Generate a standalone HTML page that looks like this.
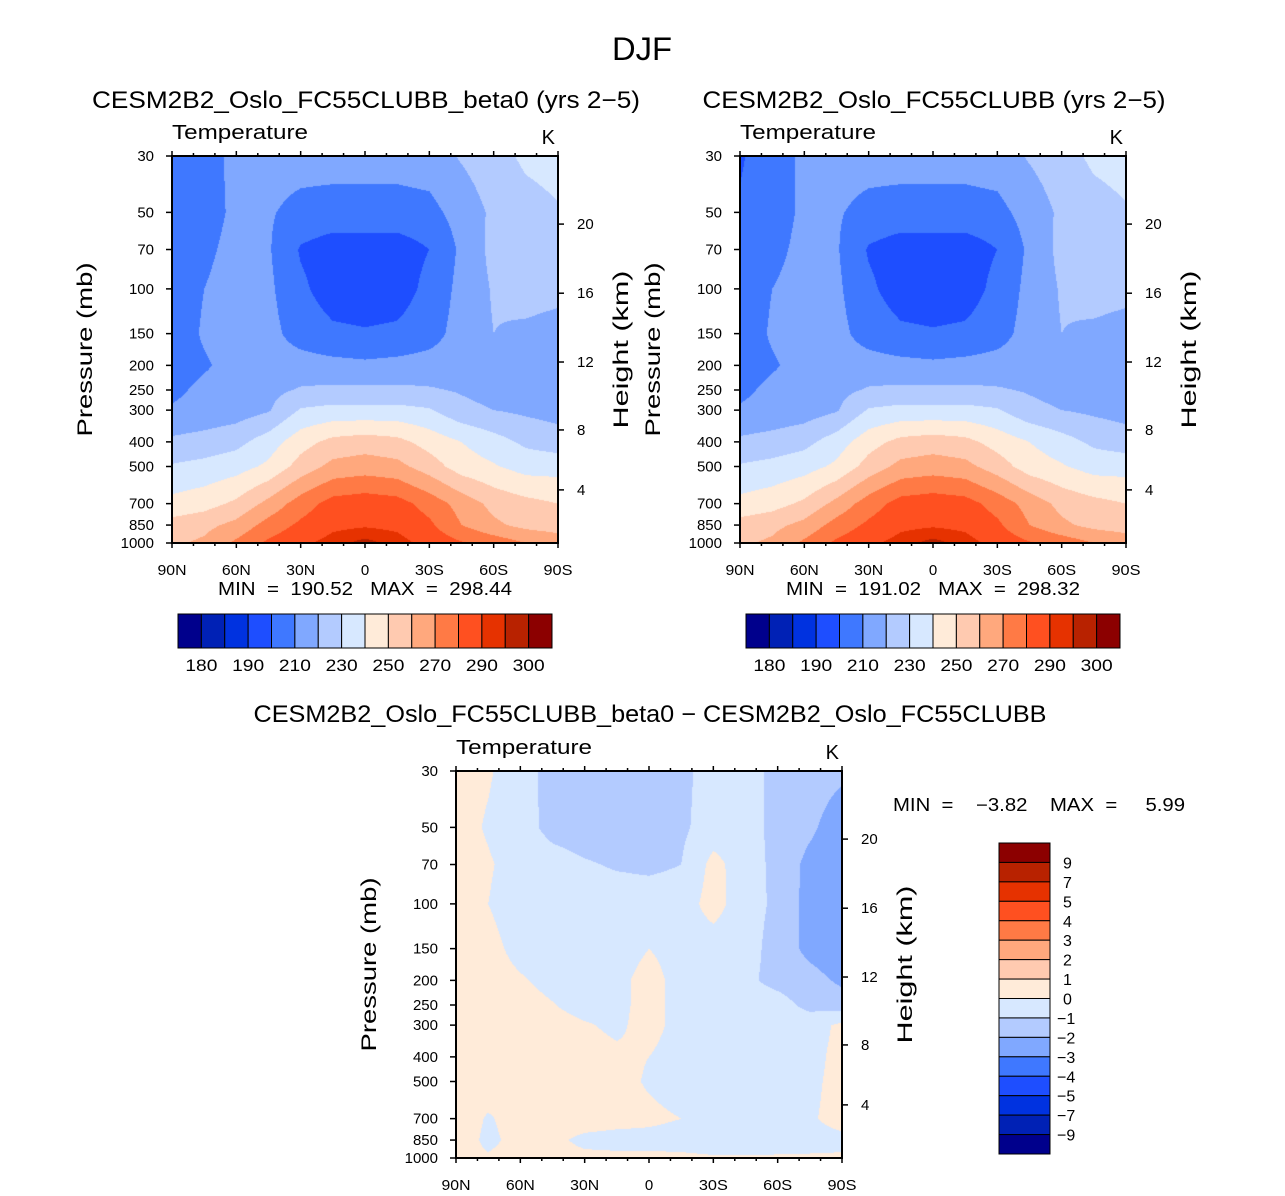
<!DOCTYPE html>
<html><head><meta charset="utf-8"><style>
body{margin:0;background:#fff;width:1285px;height:1196px;position:relative;overflow:hidden;font-family:"Liberation Sans",sans-serif}
canvas{position:absolute}
svg{position:absolute;left:0;top:0}
svg text{white-space:pre}
</style></head><body>
<canvas id="cA" width="386" height="387" style="left:172px;top:156px"></canvas>
<canvas id="cB" width="386" height="387" style="left:740px;top:156px"></canvas>
<canvas id="cC" width="386" height="387" style="left:456px;top:771px"></canvas>
<svg id="ov" width="1285" height="1196"></svg>
<script>
const lats=[90,75,60,45,30,15,0,-15,-30,-45,-60,-75,-90];
const plevs=[30,50,70,100,150,200,250,300,400,500,700,850,1000];
const tempA=[
[205,207,212,214,214,214,214,214,215,221,226,232,234],
[204,206,212,211,207,206,206,206,207,214,222,226,229],
[204,208,213,211,199,195,195,195,200,212,223,225,225],
[205,210,214,212,202,195,194,195,203,213,221,224,223],
[205,211,214,213,206,202,201,202,206,214,220,218,216],
[206,209,213,214,214,213,212,213,214,215,216,215,214],
[208,212,214,217,221,222,222,222,221,219,216,215,214],
[211,213,215,219,231,233,233,233,231,223,220,218,216],
[222,224,227,235,246,253,255,253,246,240,234,228,225],
[231,233,236,242,254,263,265,263,255,245,241,236,236],
[243,246,252,263,275,284,286,284,276,266,257,253,250],
[254,257,263,274,282,288,289,288,282,270,262,257,255],
[258,262,272,282,288,293,297,293,287,281,276,270,266]];
const tempB=[
[199,205,212,214,214,214,214,214,215,221,226,232,234],
[201,205,212,211,207,206,206,206,207,214,222,226,229],
[203,207,213,211,199,195,195,195,200,212,223,225,225],
[205,210,214,212,202,195,194,195,203,213,221,224,223],
[205,211,214,213,206,202,201,202,206,214,220,218,216],
[206,209,213,214,214,213,212,213,214,215,216,215,214],
[208,212,214,217,221,222,222,222,221,219,216,215,214],
[211,213,215,219,231,233,233,233,231,223,220,218,216],
[222,224,227,235,246,253,255,253,246,240,234,228,225],
[231,233,236,242,254,263,265,263,255,245,241,236,236],
[243,246,252,263,275,284,286,284,276,266,257,253,250],
[254,257,263,274,282,288,289,288,282,270,262,257,255],
[258,262,272,282,288,293,297,293,287,281,276,270,266]];
const diffC=[
[0.4,0.1,-0.5,-1.4,-1.5,-1.5,-1.5,-1.3,-0.5,-0.6,-1.3,-1.5,-1.8],
[0.4,-0.1,-0.6,-1.3,-1.5,-1.6,-1.5,-1.2,-0.5,-0.6,-1.3,-1.8,-2.6],
[0.4,0.1,-0.4,-0.6,-0.9,-1.1,-1.2,-1.0,0.3,-0.5,-1.3,-2.3,-2.8],
[0.4,0.0,-0.5,-0.5,-0.5,-0.5,-0.5,-0.5,0.4,-0.6,-1.2,-2.4,-2.9],
[0.4,0.3,-0.3,-0.6,-0.9,-0.5,0.0,-0.4,-0.5,-0.6,-1.4,-2.3,-2.8],
[0.5,0.4,0.1,-0.3,-0.5,-0.3,0.4,-0.4,-0.6,-0.8,-1.3,-1.6,-2.2],
[0.5,0.5,0.4,0.05,-0.4,-0.3,0.4,-0.4,-0.5,-0.5,-0.6,-1.3,-1.5],
[0.5,0.5,0.5,0.4,0.1,-0.2,0.4,-0.4,-0.5,-0.5,-0.5,-0.4,0.2],
[0.5,0.5,0.5,0.5,0.4,0.2,0.0,-0.5,-0.5,-0.5,-0.4,-0.3,0.3],
[0.5,0.5,0.5,0.4,0.4,0.3,-0.1,-0.4,-0.5,-0.5,-0.4,-0.2,0.3],
[0.6,-0.1,0.4,0.4,0.4,0.3,0.2,0.0,-0.5,-0.5,-0.4,-0.1,0.3],
[0.5,-0.2,0.3,0.2,-0.2,-0.3,-0.3,-0.4,-0.5,-0.5,-0.4,-0.3,-0.2],
[0.3,0.1,0.3,0.3,0.2,0.2,0.2,0.2,0.1,0.1,0.1,0.1,0.1]];
const levelsT=[180,185,190,200,210,220,230,240,250,260,270,280,290,295,300];
const levelsD=[-9,-7,-5,-4,-3,-2,-1,0,1,2,3,4,5,7,9];
const labelsT=["180","190","210","230","250","270","290","300"];
const labelsD=["9","7","5","4","3","2","1","0","\u22121","\u22122","\u22123","\u22124","\u22125","\u22127","\u22129"];
const presTicks=[30,50,70,100,150,200,250,300,400,500,700,850,1000];
const heightTicks=[4,8,12,16,20];
const heightPres=[618,359,194,104,55.6];
const latTicks=[90,60,30,0,-30,-60,-90];
const latLabels=["90N","60N","30N","0","30S","60S","90S"];
const colors=['#00008c','#0021b5','#0032e0','#1e4eff','#3f78ff','#80a8ff','#b3cbff','#d7e8ff','#ffebd9','#ffcab0','#ffa87d','#ff7a45','#ff5020','#e63200','#b82200','#8c0000'];
const L0=Math.log10(30),L1=Math.log10(1000);
function yOfP(p,y0,h){return y0+h*(Math.log10(p)-L0)/(L1-L0);}
function xOfLat(lat,x0,w){return x0+w*(90-lat)/180;}
function hex(c){return [parseInt(c.slice(1,3),16),parseInt(c.slice(3,5),16),parseInt(c.slice(5,7),16)];}
const rgb=colors.map(hex);
function fill(id,data,levels){
  const cv=document.getElementById(id),ctx=cv.getContext('2d'),w=cv.width,h=cv.height;
  const img=ctx.createImageData(w,h);
  const lp=plevs.map(p=>Math.log10(p));
  for(let py=0;py<h;py++){
    const l=L0+(py+0.5)/h*(L1-L0);
    let i=0;while(i<lp.length-2&&l>lp[i+1])i++;
    const ty=(l-lp[i])/(lp[i+1]-lp[i]);
    for(let px=0;px<w;px++){
      const lat=90-(px+0.5)/w*180;
      let j=0;while(j<lats.length-2&&lat<lats[j+1])j++;
      const tx=(lats[j]-lat)/(lats[j]-lats[j+1]);
      const v=(data[i][j]*(1-tx)+data[i][j+1]*tx)*(1-ty)+(data[i+1][j]*(1-tx)+data[i+1][j+1]*tx)*ty;
      let k=0;while(k<levels.length&&v>=levels[k])k++;
      const c=rgb[k],o=(py*w+px)*4;
      img.data[o]=c[0];img.data[o+1]=c[1];img.data[o+2]=c[2];img.data[o+3]=255;
    }
  }
  ctx.putImageData(img,0,0);
}
fill('cA',tempA,levelsT);fill('cB',tempB,levelsT);fill('cC',diffC,levelsD);
const NS='http://www.w3.org/2000/svg',ov=document.getElementById('ov');
function el(tag,attrs,name){const e=document.createElementNS(NS,tag);for(const k in attrs)e.setAttribute(k,attrs[k]);


ov.appendChild(e);return e;}
function txt(s,x,y,size,anchor,name,len,rot){const a={x:x,y:y,'font-size':size,'text-anchor':anchor||'start',fill:'#000','font-family':'Liberation Sans, sans-serif'};
if(len){a.textLength=len;a.lengthAdjust='spacingAndGlyphs';}
if(rot)a.transform='rotate(-90 '+x+' '+y+')';
const t=el('text',a,name);t.textContent=s;return t;}
function line(x1,y1,x2,y2,name,wd){el('line',{x1:x1,y1:y1,x2:x2,y2:y2,stroke:'#000','stroke-width':wd||1.5},name);}
function axes(x0,y0,w,h,title,titleX,titleLen,minmax,yLabX,hLabX){
  el('rect',{x:x0,y:y0,width:w,height:h,fill:'none',stroke:'#000','stroke-width':2},'plot-border');
  for(let lat=90;lat>=-90;lat-=10){const x=xOfLat(lat,x0,w),major=(lat%30===0);
    line(x,y0,x,y0-(major?5:3),'top-tick');line(x,y0+h,x,y0+h+(major?5:3),'x-tick');}
  latTicks.forEach((lat,i)=>txt(latLabels[i],xOfLat(lat,x0,w),y0+h+32,15,'middle','x-tick-label',latLabels[i].length>1?29:null));
  presTicks.forEach(p=>{const y=yOfP(p,y0,h);line(x0,y,x0-6,y,'y-tick');
    txt(String(p),x0-18,y+5,15,'end','y-tick-label');});
  heightTicks.forEach((z,i)=>{const y=yOfP(heightPres[i],y0,h);line(x0+w,y,x0+w+6,y,'height-tick');
    txt(String(z),x0+w+19,y+5,15,'start','height-tick-label');});
  txt('Pressure (mb)',x0-80,y0+h/2+87,21,'start','y-axis-title',174,true);
  txt('Height (km)',x0+w+70,y0+h/2+79,21,'start','height-axis-title',158,true);
  txt('Temperature',x0,y0-17,20,'start','variable-label',136);
  txt('K',x0+w-3,y0-12,20,'end','units-label');
  if(title)txt(title,titleX,y0-48,24,'middle','panel-title',titleLen);
  if(minmax)txt(minmax,x0+w/2,y0+h+52,18,'middle','min-max-label',294);
}
txt('DJF',642,60,32,'middle','figure-title',60);
axes(172,156,386,387,'CESM2B2_Oslo_FC55CLUBB_beta0 (yrs 2\u22125)',366,548,'MIN  =  190.52   MAX  =  298.44');
axes(740,156,386,387,'CESM2B2_Oslo_FC55CLUBB (yrs 2\u22125)',934,463,'MIN  =  191.02   MAX  =  298.32');
axes(456,771,386,387,null);
txt('CESM2B2_Oslo_FC55CLUBB_beta0 \u2212 CESM2B2_Oslo_FC55CLUBB',650,722,24,'middle','difference-title',793);
txt('MIN  =    \u22123.82    MAX  =     5.99',1039,811,18,'middle','difference-min-max',292);
function hbar(x0,y0,w,h,name){const bw=w/colors.length;
  colors.forEach((c,i)=>el('rect',{x:x0+i*bw,y:y0,width:bw,height:h,fill:c,stroke:'#000','stroke-width':1},name+'-box'));
  labelsT.forEach((s,i)=>txt(s,x0+(1+2*i)*bw,y0+57,17,'middle',name+'-label',32));}
hbar(178,614,374,34,'colorbar-left');hbar(746,614,374,34,'colorbar-right');
(function(){const x0=999,y0=843,w=51,h=311,bh=h/colors.length;
  colors.slice().reverse().forEach((c,i)=>el('rect',{x:x0,y:y0+i*bh,width:w,height:bh,fill:c,stroke:'#000','stroke-width':1},'colorbar-difference-box'));
  labelsD.forEach((s,i)=>txt(s,s.length>1?1057:1063,y0+(i+1)*bh+6,16,'start','colorbar-difference-label'));})();
</script>
</body></html>
